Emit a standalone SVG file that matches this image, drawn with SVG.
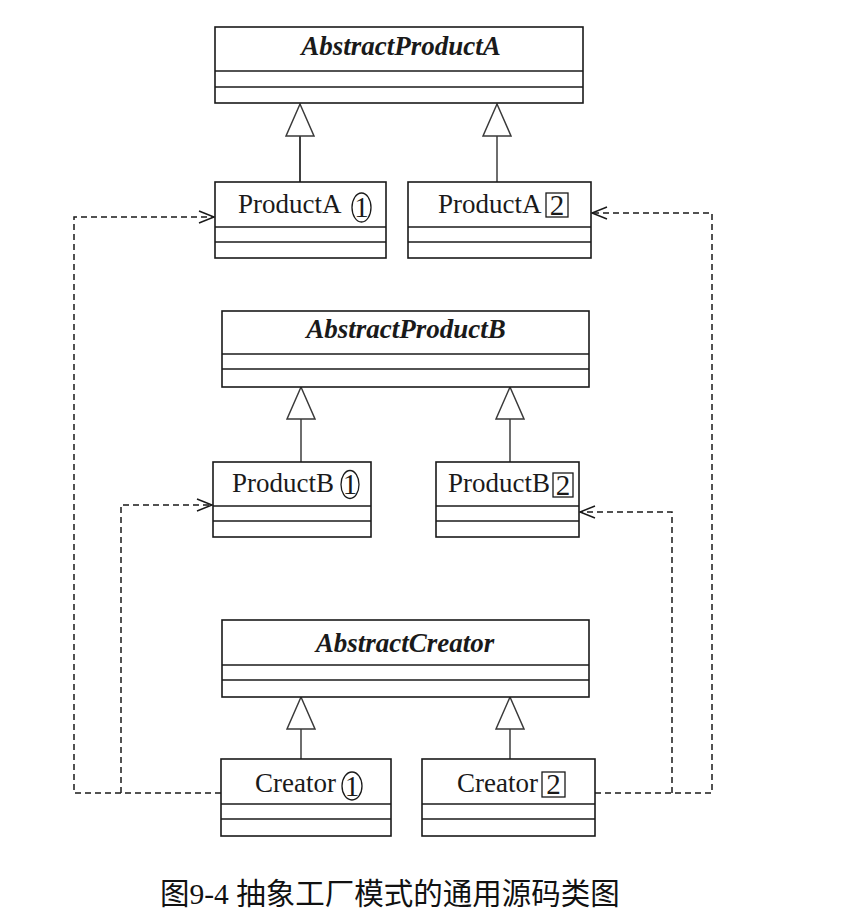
<svg xmlns="http://www.w3.org/2000/svg" width="858" height="920" viewBox="0 0 858 920">
  <defs>
    <style>
      .box { fill: #ffffff; stroke: #1a1a1a; stroke-width: 1.6; }
      .sep { stroke: #1a1a1a; stroke-width: 1.6; }
      .abs { font-family: "Liberation Serif", "Times New Roman", serif; font-size: 27px; font-weight: bold; font-style: italic; fill: #1a1a1a; text-anchor: middle; }
      .cls { font-family: "Liberation Serif", "Times New Roman", serif; font-size: 27px; fill: #1a1a1a; }
      .num { font-family: "Liberation Serif", "Times New Roman", serif; font-size: 29px; fill: #1a1a1a; text-anchor: middle; }
      .badge { fill: none; stroke: #1a1a1a; stroke-width: 1.3; }
      .gen { fill: none; stroke: #4a4a4a; stroke-width: 1.6; marker-end: url(#tri); }
      .dep { fill: none; stroke: #1a1a1a; stroke-width: 1.5; stroke-dasharray: 6 4; }
      .dep-head { marker-end: url(#open); }
      .caption { font-family: "Liberation Serif", "Noto Sans CJK SC", serif; font-size: 29.5px; fill: #111111; }
    </style>
    <!-- hollow triangle for generalization -->
    <marker id="tri" markerUnits="userSpaceOnUse" markerWidth="36" markerHeight="32" refX="33" refY="15" orient="auto">
      <path d="M1,1 L33,15 L1,29 Z" fill="#ffffff" stroke="#3a3a3a" stroke-width="1.5"/>
    </marker>
    <!-- open arrowhead for dependency -->
    <marker id="open" markerUnits="userSpaceOnUse" markerWidth="18" markerHeight="16" refX="16" refY="7" orient="auto">
      <path d="M1,1 L16,7 L1,13" fill="none" stroke="#1a1a1a" stroke-width="1.5"/>
    </marker>
  </defs>

  <rect x="0" y="0" width="858" height="920" fill="#ffffff"/>

  <!-- connectors -->
  <g id="connectors">
    <!-- generalizations -->
    <line class="gen" x1="300" y1="182" x2="300" y2="104" style="stroke:#111"/>
    <line class="gen" x1="497" y1="182" x2="497" y2="104"/>
    <line class="gen" x1="301" y1="462" x2="301" y2="387"/>
    <line class="gen" x1="510" y1="462" x2="510" y2="387"/>
    <line class="gen" x1="301" y1="759" x2="301" y2="697"/>
    <line class="gen" x1="510" y1="759" x2="510" y2="697"/>
    <!-- dependencies from Creator1 -->
    <path class="dep dep-head" d="M221,793 H74 V217 H214"/>
    <path class="dep dep-head" d="M121,793 V505 H212"/>
    <!-- dependencies from Creator2 -->
    <path class="dep dep-head" d="M595,793 H712 V213 H592"/>
    <path class="dep dep-head" d="M672,793 V512 H580"/>
  </g>

  <!-- AbstractProductA -->
  <g id="AbstractProductA">
    <rect class="box" x="215" y="27" width="368" height="76"/>
    <line class="sep" x1="215" y1="71" x2="583" y2="71"/>
    <line class="sep" x1="215" y1="87" x2="583" y2="87"/>
    <text class="abs" x="401" y="55">AbstractProductA</text>
  </g>

  <!-- ProductA1 -->
  <g id="ProductA1">
    <rect class="box" x="215" y="182" width="171" height="76"/>
    <line class="sep" x1="215" y1="227" x2="386" y2="227"/>
    <line class="sep" x1="215" y1="242" x2="386" y2="242"/>
    <text class="cls" x="238" y="213">ProductA</text>
    <ellipse class="badge" cx="361.5" cy="207.5" rx="9.5" ry="14.5"/>
    <text class="num" x="361.5" y="217">1</text>
  </g>

  <!-- ProductA2 -->
  <g id="ProductA2">
    <rect class="box" x="408" y="182" width="183" height="76"/>
    <line class="sep" x1="408" y1="227" x2="591" y2="227"/>
    <line class="sep" x1="408" y1="242" x2="591" y2="242"/>
    <text class="cls" x="438" y="213">ProductA</text>
    <rect class="badge" x="546" y="193" width="22" height="24"/>
    <text class="num" x="557" y="214.5">2</text>
  </g>

  <!-- AbstractProductB -->
  <g id="AbstractProductB">
    <rect class="box" x="222" y="311" width="367" height="76"/>
    <line class="sep" x1="222" y1="354" x2="589" y2="354"/>
    <line class="sep" x1="222" y1="369" x2="589" y2="369"/>
    <text class="abs" x="406" y="338">AbstractProductB</text>
  </g>

  <!-- ProductB1 -->
  <g id="ProductB1">
    <rect class="box" x="213" y="462" width="158" height="75"/>
    <line class="sep" x1="213" y1="506" x2="371" y2="506"/>
    <line class="sep" x1="213" y1="521" x2="371" y2="521"/>
    <text class="cls" x="232" y="492">ProductB</text>
    <ellipse class="badge" cx="350" cy="484.5" rx="9" ry="14"/>
    <text class="num" x="350" y="494">1</text>
  </g>

  <!-- ProductB2 -->
  <g id="ProductB2">
    <rect class="box" x="436" y="462" width="143" height="75"/>
    <line class="sep" x1="436" y1="506" x2="579" y2="506"/>
    <line class="sep" x1="436" y1="521" x2="579" y2="521"/>
    <text class="cls" x="448" y="492">ProductB</text>
    <rect class="badge" x="553" y="473" width="20" height="24"/>
    <text class="num" x="563" y="494.5">2</text>
  </g>

  <!-- AbstractCreator -->
  <g id="AbstractCreator">
    <rect class="box" x="222" y="620" width="367" height="77"/>
    <line class="sep" x1="222" y1="665" x2="589" y2="665"/>
    <line class="sep" x1="222" y1="680" x2="589" y2="680"/>
    <text class="abs" x="405" y="652">AbstractCreator</text>
  </g>

  <!-- Creator1 -->
  <g id="Creator1">
    <rect class="box" x="221" y="759" width="170" height="77"/>
    <line class="sep" x1="221" y1="804" x2="391" y2="804"/>
    <line class="sep" x1="221" y1="819" x2="391" y2="819"/>
    <text class="cls" x="255" y="792">Creator</text>
    <ellipse class="badge" cx="352" cy="786" rx="10" ry="14"/>
    <text class="num" x="352" y="795.5">1</text>
  </g>

  <!-- Creator2 -->
  <g id="Creator2">
    <rect class="box" x="422" y="759" width="173" height="77"/>
    <line class="sep" x1="422" y1="804" x2="595" y2="804"/>
    <line class="sep" x1="422" y1="819" x2="595" y2="819"/>
    <text class="cls" x="457" y="792">Creator</text>
    <rect class="badge" x="542" y="772" width="23" height="25"/>
    <text class="num" x="553.5" y="794">2</text>
  </g>

  <!-- caption -->
  <text class="caption" x="160" y="904">图9-4 抽象工厂模式的通用源码类图</text>
</svg>
